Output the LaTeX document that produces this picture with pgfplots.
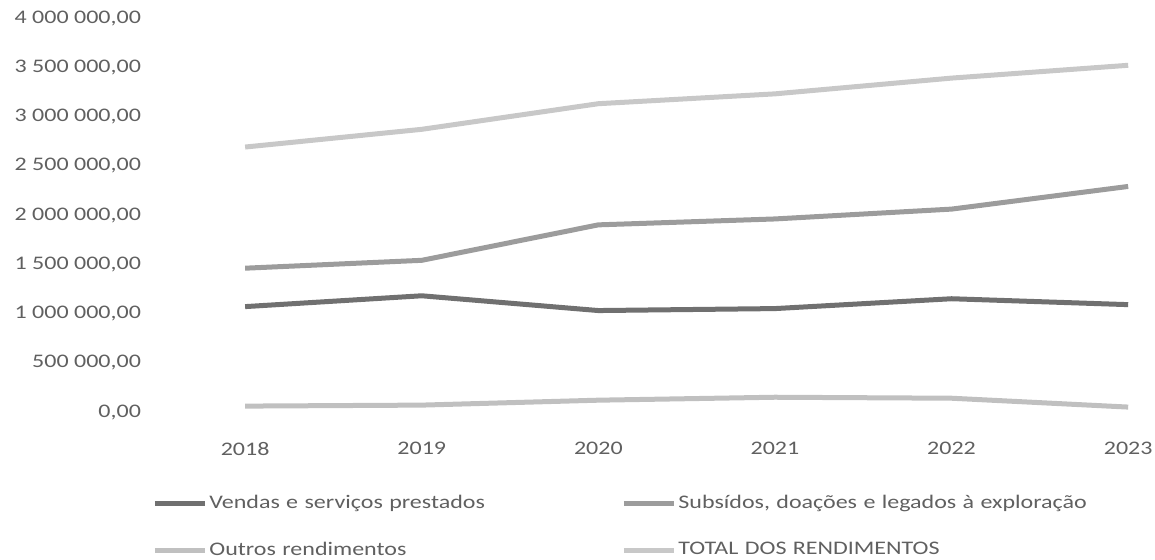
\documentclass[border=0pt]{standalone}
\usepackage{fontspec}
\setmainfont{Carlito}[FakeStretch=1.25]
\usepackage{pgfplots}
\pgfplotsset{compat=1.18}
\definecolor{txt}{HTML}{606060}
\definecolor{cVend}{HTML}{707070}
\definecolor{cSub}{HTML}{9C9C9C}
\definecolor{cOut}{HTML}{C0C0C0}
\definecolor{cTot}{HTML}{C8C8C8}
\begin{document}
\begin{tikzpicture}
\useasboundingbox (0,0) rectangle (577.5pt,279.5pt);
\begin{axis}[
  at={(74pt,73.5pt)}, anchor=south west,
  scale only axis, width=494.5pt, height=197pt,
  xmin=2017.45, xmax=2023.05, ymin=0, ymax=4000000,
  axis line style={draw=none}, major tick length=0pt,
  xtick={2018,2019,2020,2021,2022,2023},
  xticklabels={2018,2019,2020,2021,2022,2023},
  ytick={0,500000,1000000,1500000,2000000,2500000,3000000,3500000,4000000},
  yticklabels={{0,00},{500 000,00},{1 000 000,00},{1 500 000,00},{2 000 000,00},{2 500 000,00},{3 000 000,00},{3 500 000,00},{4 000 000,00}},
  scaled ticks=false,
  tick label style={font=\fontsize{9.6}{11.5}\selectfont, text=txt},
  xticklabel style={yshift=-11.5pt},
  legend columns=2,
  legend cell align=left,
  legend style={at={(-0.002,-0.191)}, anchor=north west, draw=none, fill=none,
    font=\fontsize{9.6}{11.5}\selectfont, text=txt,
    nodes={text width=205pt, align=left, inner xsep=1pt, inner ysep=2pt},
    row sep=11pt},
  legend image code/.code={\draw[#1, line width=2.5pt] (0pt,0pt) -- (25pt,0pt);},
  every axis plot/.append style={line width=2.5pt, line join=round},
]
\addplot[cVend] coordinates {(2018,1070000) (2019,1180000) (2020,1030000) (2021,1050000) (2022,1150000) (2023,1090000)};
\addlegendentry{\mbox{Vendas e serviços prestados}}
\addplot[cSub] coordinates {(2018,1460000) (2019,1540000) (2020,1900000) (2021,1960000) (2022,2060000) (2023,2290000)};
\addlegendentry{\mbox{Subsídos, doações e legados à exploração}}
\addplot[cOut] coordinates {(2018,60000) (2019,70000) (2020,120000) (2021,150000) (2022,140000) (2023,50000)};
\addlegendentry{\mbox{Outros rendimentos}}
\addplot[cTot] coordinates {(2018,2690000) (2019,2870000) (2020,3130000) (2021,3230000) (2022,3390000) (2023,3520000)};
\addlegendentry{\mbox{TOTAL DOS RENDIMENTOS}}
\end{axis}
\end{tikzpicture}
\end{document}
